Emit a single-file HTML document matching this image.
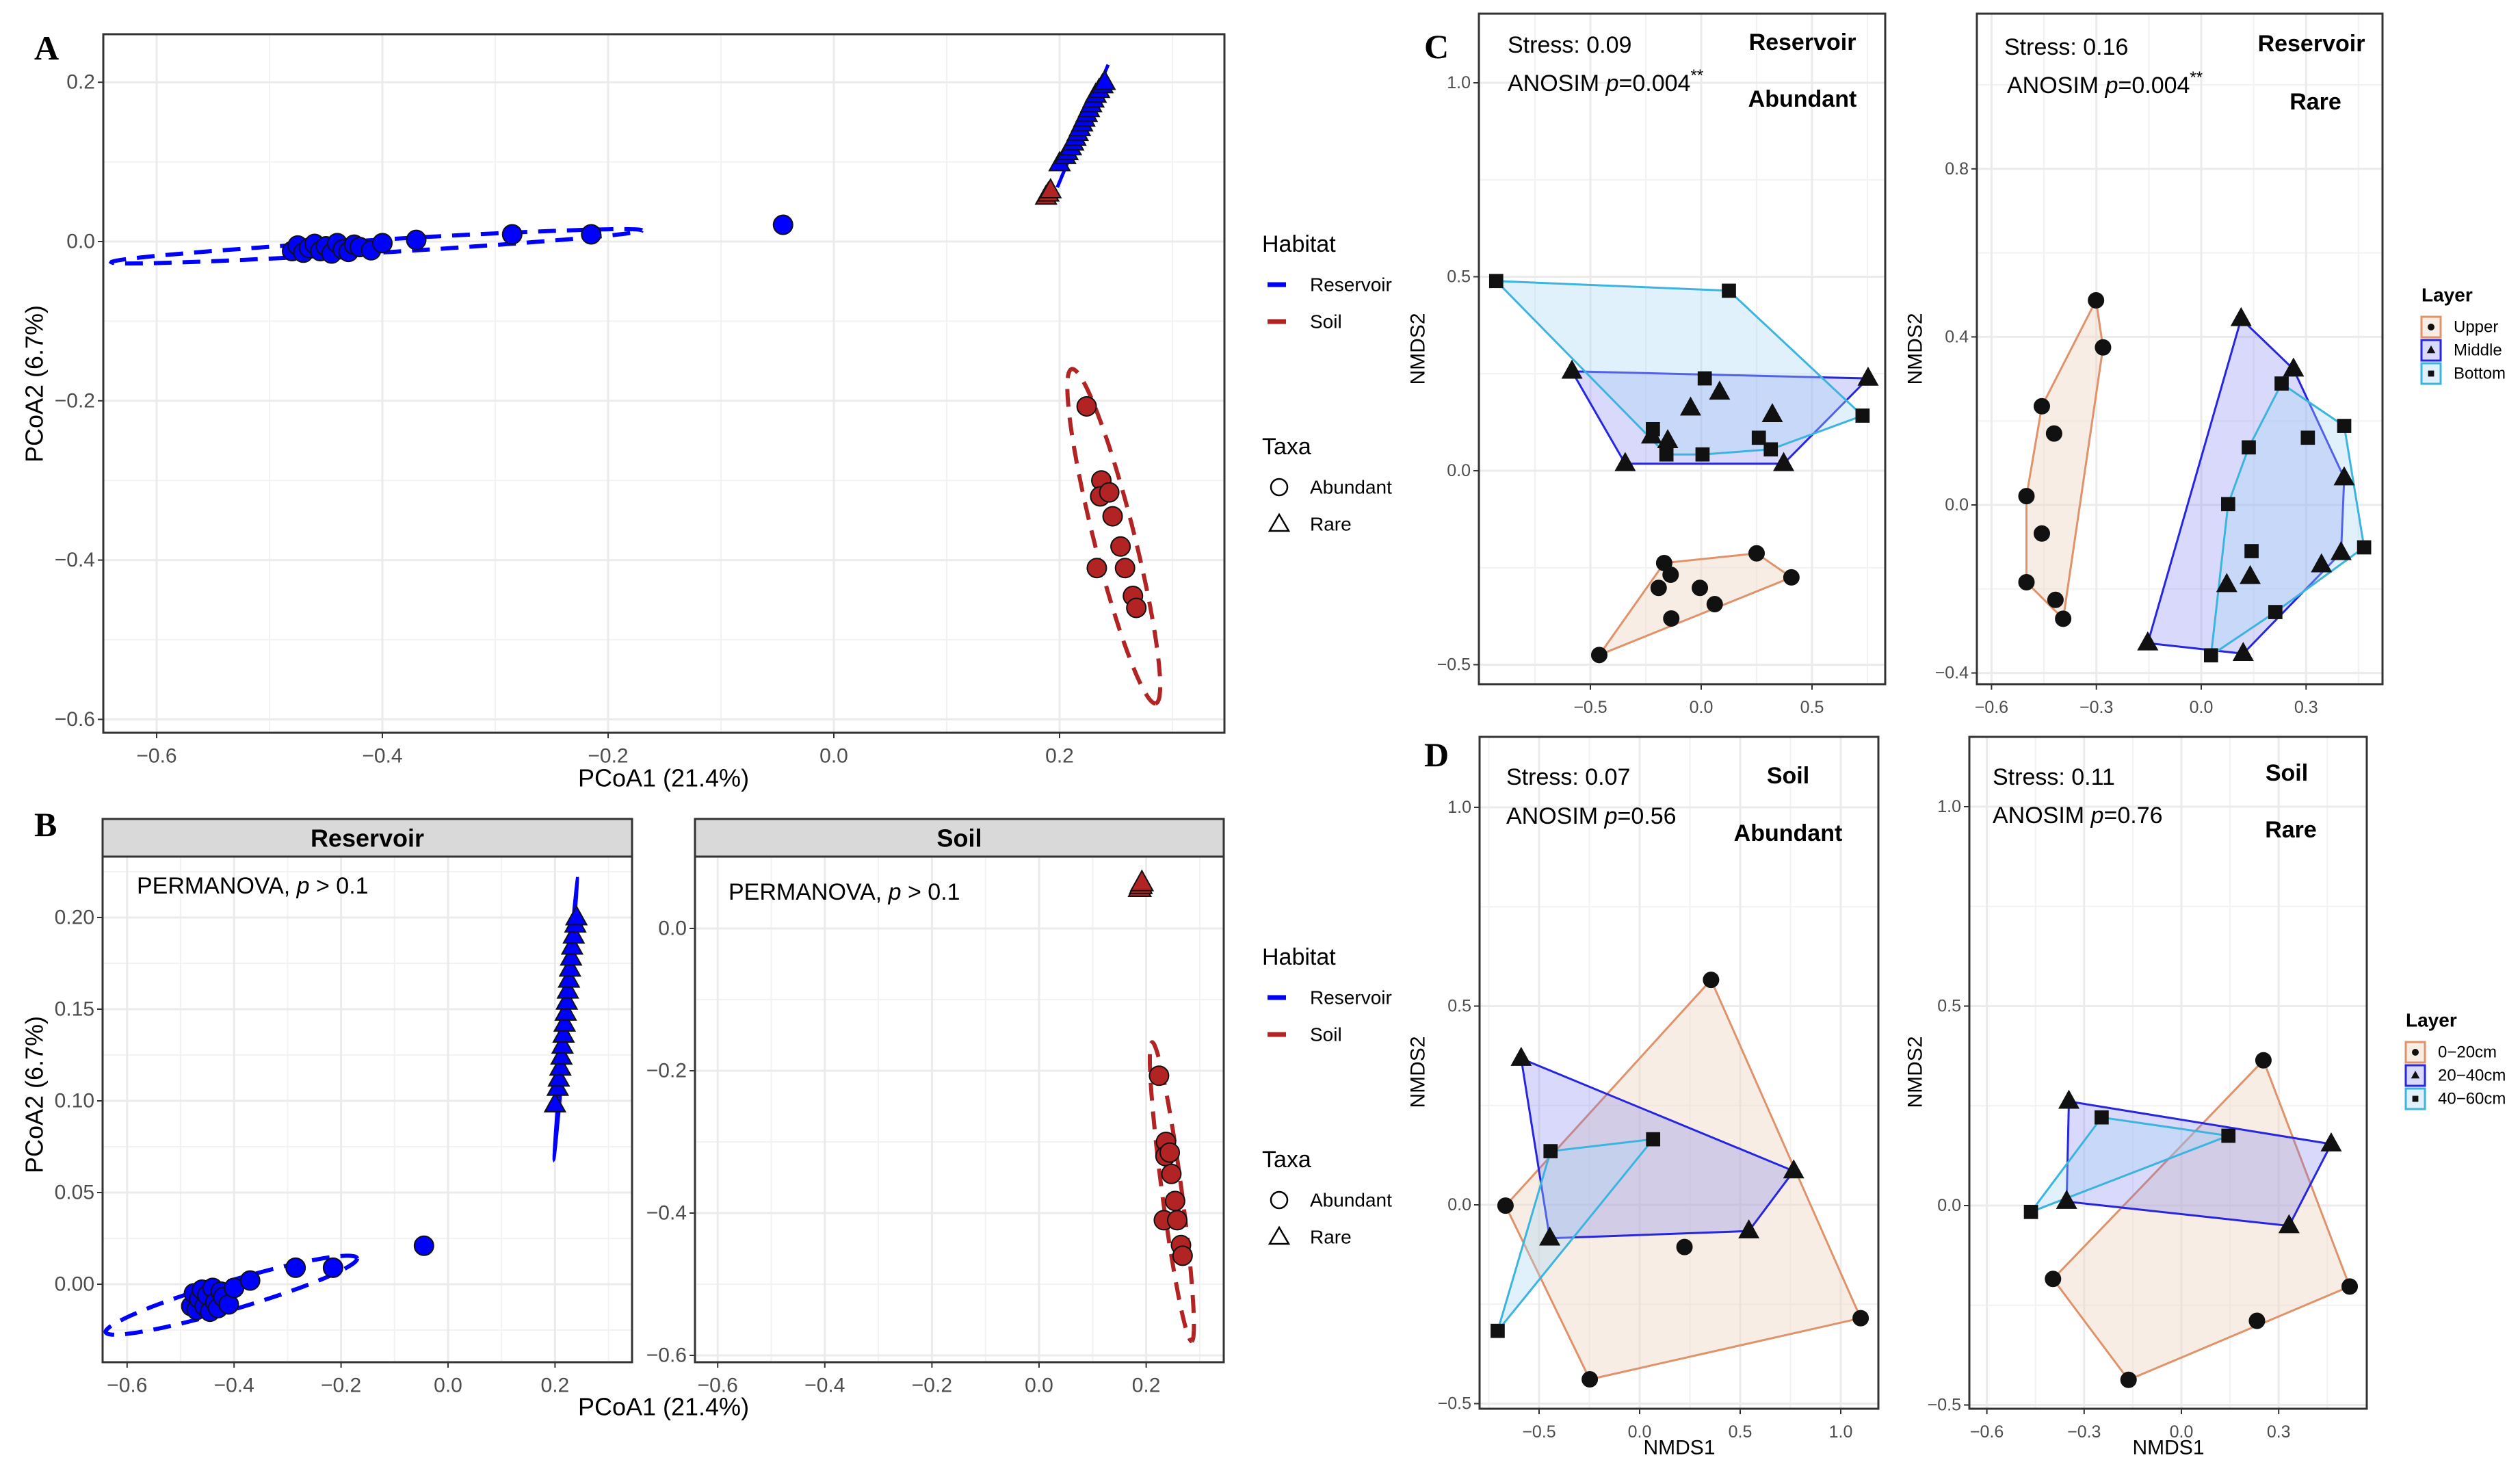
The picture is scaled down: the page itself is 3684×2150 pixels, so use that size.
<!DOCTYPE html>
<html><head><meta charset="utf-8"><style>
html,body{margin:0;padding:0;background:#fff}
svg{display:block;font-family:"Liberation Sans",Arial,sans-serif}
</style></head><body>
<svg id="fig" width="3684" height="2150" viewBox="0 0 3684 2150" xmlns="http://www.w3.org/2000/svg"></svg>
<script>
// ---------- DATA ----------
// PCoA (panels A, B)
const resAbX=[-0.48,-0.475,-0.47,-0.465,-0.46,-0.455,-0.45,-0.445,-0.44,-0.435,-0.43,-0.425,-0.42,-0.41,-0.40,-0.37,-0.285,-0.215,-0.045];
const resAbY=[-0.012,-0.005,-0.014,-0.008,-0.003,-0.012,-0.006,-0.015,-0.002,-0.01,-0.013,-0.004,-0.007,-0.011,-0.002,0.002,0.009,0.009,0.021];
const resRareX=[0.20,0.205,0.207,0.21,0.212,0.214,0.216,0.218,0.22,0.222,0.224,0.226,0.228,0.23,0.232,0.235,0.238,0.24];
const resRareY=[0.098,0.107,0.112,0.118,0.124,0.13,0.136,0.142,0.148,0.154,0.16,0.166,0.172,0.178,0.184,0.19,0.196,0.2];
const soilRareX=[0.188,0.19,0.192];
const soilRareY=[0.056,0.06,0.064];
const soilAbX=[0.224,0.237,0.236,0.244,0.247,0.254,0.233,0.258,0.265,0.268];
const soilAbY=[-0.207,-0.30,-0.32,-0.315,-0.345,-0.383,-0.41,-0.41,-0.445,-0.46];
// ellipses: center, axis a, axis b (data units)
const ellResAb=[-0.405,-0.006,0.235,0.02,-0.0015,0.008];
const ellResRare=[0.22,0.145,0.022,0.077,0.003,0];
const ellSoil=[0.248,-0.37,0.037,-0.21,0.018,0.003];

// NMDS C1
const c1UpX=[-0.46,-0.167,-0.138,-0.192,-0.006,0.061,-0.135,0.25,0.407];
const c1UpY=[-0.475,-0.238,-0.268,-0.302,-0.302,-0.344,-0.381,-0.213,-0.275];
const c1MidX=[-0.583,0.753,-0.343,0.372,0.083,-0.048,0.321,-0.224,-0.151];
const c1MidY=[0.256,0.238,0.018,0.018,0.202,0.161,0.144,0.089,0.077];
const c1BotX=[-0.925,0.125,0.728,0.016,-0.218,-0.157,0.006,0.26,0.314];
const c1BotY=[0.489,0.464,0.142,0.238,0.107,0.042,0.042,0.085,0.055];
// NMDS C2
const c2UpX=[-0.301,-0.281,-0.456,-0.421,-0.5,-0.456,-0.5,-0.417,-0.395];
const c2UpY=[0.487,0.375,0.235,0.17,0.021,-0.068,-0.184,-0.226,-0.271];
const c2MidX=[0.114,0.264,0.409,0.4,0.344,0.14,0.073,-0.153,0.12];
const c2MidY=[0.443,0.323,0.064,-0.114,-0.143,-0.171,-0.19,-0.329,-0.354];
const c2BotX=[0.23,0.409,0.305,0.136,0.077,0.144,0.466,0.212,0.028];
const c2BotY=[0.289,0.188,0.16,0.137,0.002,-0.11,-0.101,-0.255,-0.358];
// NMDS D1
const d1AX=[0.355,-0.667,-0.248,1.099,0.223];
const d1AY=[0.566,-0.002,-0.439,-0.285,-0.106];
const d1BX=[-0.589,0.766,0.543,-0.447];
const d1BY=[0.368,0.085,-0.066,-0.084];
const d1CX=[-0.443,0.067,-0.706];
const d1CY=[0.135,0.165,-0.317];
// NMDS D2
const d2AX=[0.253,-0.396,-0.163,0.519,0.233];
const d2AY=[0.364,-0.184,-0.437,-0.203,-0.289];
const d2BX=[-0.347,0.462,0.332,-0.354];
const d2BY=[0.261,0.154,-0.051,0.01];
const d2CX=[-0.246,0.145,-0.464];
const d2CY=[0.221,0.175,-0.016];

// ---------- HELPERS ----------
const NS='http://www.w3.org/2000/svg';
const svg=document.getElementById('fig');
function mk(tag,attrs,parent,text){
  const e=document.createElementNS(NS,tag);
  for(const k in attrs)e.setAttribute(k,attrs[k]);
  if(text!==undefined)e.textContent=text;
  (parent||svg).appendChild(e);return e;
}
function txt(x,y,s,size,opts,name){
  opts=opts||{};
  const t=mk('text',{x:x,y:y,'font-size':size,fill:opts.fill||'#000','text-anchor':opts.anchor||'start','dominant-baseline':'central','font-weight':opts.bold?'bold':'normal','font-family':opts.serif?'"Liberation Serif",serif':'"Liberation Sans",sans-serif'},opts.parent,s);
  if(opts.rot)t.setAttribute('transform','rotate(-90 '+x+' '+y+')');
  
  
  return t;
}
function fmt(v,d){return (v<0?'\u2212':'')+Math.abs(v).toFixed(d).replace('\u2212','');}
function hull(px){
  const p=px.slice().sort((a,b)=>a[0]-b[0]||a[1]-b[1]);
  const cr=(o,a,b)=>(a[0]-o[0])*(b[1]-o[1])-(a[1]-o[1])*(b[0]-o[0]);
  const lo=[],up=[];
  for(const q of p){while(lo.length>=2&&cr(lo[lo.length-2],lo[lo.length-1],q)<=0)lo.pop();lo.push(q);}
  for(let i=p.length-1;i>=0;i--){const q=p[i];while(up.length>=2&&cr(up[up.length-2],up[up.length-1],q)<=0)up.pop();up.push(q);}
  up.pop();lo.pop();return lo.concat(up);
}
// panel: box + scales
function panel(c){
  const g=mk('g',{});
  
  
  const sx=v=>c.x0+v*c.kx, sy=v=>c.y0-v*c.ky;
  mk('rect',{x:c.L,y:c.T,width:c.R-c.L,height:c.B-c.T,fill:'#fff'},g);
  // minor grid
  (c.xminor||[]).forEach(v=>{const l=mk('line',{x1:sx(v),x2:sx(v),y1:c.T,y2:c.B,stroke:'#f2f2f2','stroke-width':2},g);});
  (c.yminor||[]).forEach(v=>{const l=mk('line',{y1:sy(v),y2:sy(v),x1:c.L,x2:c.R,stroke:'#f2f2f2','stroke-width':2},g);});
  c.xt.forEach(v=>{const l=mk('line',{x1:sx(v),x2:sx(v),y1:c.T,y2:c.B,stroke:'#ebebeb','stroke-width':3},g);});
  c.yt.forEach(v=>{const l=mk('line',{y1:sy(v),y2:sy(v),x1:c.L,x2:c.R,stroke:'#ebebeb','stroke-width':3},g);});
  const clip='clip'+c.name;
  const cp=mk('clipPath',{id:clip},g);mk('rect',{x:c.L,y:c.T,width:c.R-c.L,height:c.B-c.T},cp);
  const plot=mk('g',{'clip-path':'url(#'+clip+')'},g);
  // ticks + labels
  c.xt.forEach(v=>{mk('line',{x1:sx(v),x2:sx(v),y1:c.B,y2:c.B+8,stroke:'#333','stroke-width':2},g);
    txt(sx(v),c.B+34,fmt(v,c.xd),c.fs,{anchor:'middle',fill:'#4d4d4d',parent:g},'x-tick-label');});
  c.yt.forEach(v=>{mk('line',{x1:c.L-8,x2:c.L,y1:sy(v),y2:sy(v),stroke:'#333','stroke-width':2},g);
    txt(c.L-12,sy(v),fmt(v,c.yd),c.fs,{anchor:'end',fill:'#4d4d4d',parent:g},'y-tick-label');});
  return {g,plot,sx,sy,c};
}
function border(P){const c=P.c;mk('rect',{x:c.L,y:c.T,width:c.R-c.L,height:c.B-c.T,fill:'none',stroke:'#333','stroke-width':3},P.g);}
function ellipse(P,e,col,name){
  let d='';
  for(let i=0;i<=120;i++){const t=i/120*2*Math.PI;
    const x=e[0]+Math.cos(t)*e[2]+Math.sin(t)*e[4], y=e[1]+Math.cos(t)*e[3]+Math.sin(t)*e[5];
    d+=(i?'L':'M')+P.sx(x).toFixed(1)+' '+P.sy(y).toFixed(1);}
  const p=mk('path',{d:d,fill:'none',stroke:col,'stroke-width':6,'stroke-dasharray':'26 16'},P.plot);
  
}
function marker(parent,shape,x,y,r,fill,name){
  let e;
  if(shape==='c')e=mk('circle',{cx:x,cy:y,r:r,fill:fill,stroke:'#111','stroke-width':2},parent);
  else if(shape==='t'){const h=r*1.15;e=mk('polygon',{points:`${x},${y-h*1.1} ${x-h},${y+h*0.7} ${x+h},${y+h*0.7}`,fill:fill,stroke:'#111','stroke-width':2},parent);}
  else e=mk('rect',{x:x-r*0.85,y:y-r*0.85,width:r*1.7,height:r*1.7,fill:fill,stroke:'#111','stroke-width':2},parent);
  
  return e;
}
function pts(P,X,Y,shape,r,fill,name){X.forEach((v,i)=>marker(P.plot,shape,P.sx(v),P.sy(Y[i]),r,fill,name));}
function hullDraw(P,X,Y,stroke,fillc,name){
  const h=hull(X.map((v,i)=>[P.sx(v),P.sy(Y[i])]));
  const p=mk('polygon',{points:h.map(q=>q[0].toFixed(1)+','+q[1].toFixed(1)).join(' '),fill:fillc,stroke:stroke,'stroke-width':3},P.plot);
  
}

const BLUE='#0000ff', RED='#b22424';

// ---------- PANEL A ----------
const A=panel({name:'panel-a',L:151,R:1790,T:50,B:1071,x0:1219,kx:1650,y0:353,ky:1164,
  xt:[-0.6,-0.4,-0.2,0,0.2],yt:[0.2,0,-0.2,-0.4,-0.6],xminor:[-0.5,-0.3,-0.1,0.1,0.3],yminor:[0.1,-0.1,-0.3,-0.5],xd:1,yd:1,fs:30});
ellipse(A,ellResAb,BLUE,'reservoir-ellipse');
ellipse(A,ellSoil,RED,'soil-ellipse');
{const p=mk('path',{d:`M${A.sx(0.198)} ${A.sy(0.068)} L${A.sx(0.243)} ${A.sy(0.222)}`,stroke:BLUE,'stroke-width':5,fill:'none'},A.plot);}
pts(A,resAbX,resAbY,'c',14,BLUE,'reservoir-abundant-point');
pts(A,resRareX,resRareY,'t',13,BLUE,'reservoir-rare-point');
pts(A,soilRareX,soilRareY,'t',13,RED,'soil-rare-point');
pts(A,soilAbX,soilAbY,'c',14,RED,'soil-abundant-point');
border(A);
txt(970,1137,'PCoA1 (21.4%)',36,{anchor:'middle'},'a-x-axis-title');
txt(50,561,'PCoA2 (6.7%)',36,{anchor:'middle',rot:true},'a-y-axis-title');
txt(50,70,'A',50,{bold:true,serif:true},'panel-letter-a');

// legends A & B
function habitatLegend(y0,pref){
  txt(1845,y0,'Habitat',34,{},pref+'habitat-legend-title');
  const l1=mk('line',{x1:1853,x2:1880,y1:y0+59,y2:y0+59,stroke:BLUE,'stroke-width':7});
  txt(1915,y0+59,'Reservoir',28,{},pref+'legend-reservoir-label');
  const l2=mk('line',{x1:1853,x2:1880,y1:y0+113,y2:y0+113,stroke:RED,'stroke-width':7});
  txt(1915,y0+113,'Soil',28,{},pref+'legend-soil-label');
  txt(1845,y0+296,'Taxa',34,{},pref+'taxa-legend-title');
  const c=mk('circle',{cx:1870,cy:y0+355,r:12,fill:'none',stroke:'#000','stroke-width':2.5});
  txt(1915,y0+355,'Abundant',28,{},pref+'legend-abundant-label');
  const t=mk('polygon',{points:`1870,${y0+395} 1856,${y0+419} 1884,${y0+419}`,fill:'none',stroke:'#000','stroke-width':2.5});
  txt(1915,y0+409,'Rare',28,{},pref+'legend-rare-label');
}
habitatLegend(357,'a-');
habitatLegend(1399,'b-');

// ---------- PANEL B ----------
function strip(L,R,label,name){
  const r=mk('rect',{x:L,y:1197,width:R-L,height:55,fill:'#d9d9d9',stroke:'#333','stroke-width':3});
  txt((L+R)/2,1225,label,36,{anchor:'middle',bold:true},name+'-label');
}
const B1=panel({name:'panel-b-reservoir',L:150,R:924,T:1252,B:1991,x0:655,kx:782,y0:1877,ky:2680,
  xt:[-0.6,-0.4,-0.2,0,0.2],yt:[0,0.05,0.1,0.15,0.2],xminor:[-0.5,-0.3,-0.1,0.1,0.3],yminor:[-0.025,0.025,0.075,0.125,0.175,0.225],xd:1,yd:2,fs:30});
ellipse(B1,ellResAb,BLUE,'reservoir-ellipse');
{const e=ellResRare;let d='';for(let i=0;i<=120;i++){const t=i/120*2*Math.PI;d+=(i?'L':'M')+B1.sx(e[0]+Math.cos(t)*e[2]+Math.sin(t)*e[4]).toFixed(1)+' '+B1.sy(e[1]+Math.cos(t)*e[3]+Math.sin(t)*e[5]).toFixed(1);}
 const p=mk('path',{d:d,fill:'none',stroke:BLUE,'stroke-width':4},B1.plot);}
pts(B1,resAbX,resAbY,'c',14,BLUE,'reservoir-abundant-point');
pts(B1,resRareX,resRareY,'t',13,BLUE,'reservoir-rare-point');
border(B1);
strip(150,924,'Reservoir','strip-reservoir');
txt(200,1295,'PERMANOVA, ',34,{},'b-permanova-reservoir').innerHTML='PERMANOVA, <tspan font-style="italic">p</tspan> &gt; 0.1';

const B2=panel({name:'panel-b-soil',L:1016,R:1789,T:1252,B:1991,x0:1519,kx:783,y0:1357,ky:1040,
  xt:[-0.6,-0.4,-0.2,0,0.2],yt:[0,-0.2,-0.4,-0.6],xminor:[-0.5,-0.3,-0.1,0.1,0.3],yminor:[0.1,-0.1,-0.3,-0.5],xd:1,yd:1,fs:30});
ellipse(B2,ellSoil,RED,'soil-ellipse');
pts(B2,soilRareX,soilRareY,'t',14,RED,'soil-rare-point');
pts(B2,soilAbX,soilAbY,'c',14,RED,'soil-abundant-point');
border(B2);
strip(1016,1789,'Soil','strip-soil');
txt(1065,1304,'',34,{},'b-permanova-soil').innerHTML='PERMANOVA, <tspan font-style="italic">p</tspan> &gt; 0.1';
txt(970,2056,'PCoA1 (21.4%)',36,{anchor:'middle'},'b-x-axis-title');
txt(50,1600,'PCoA2 (6.7%)',36,{anchor:'middle',rot:true},'b-y-axis-title');
txt(50,1205,'B',50,{bold:true,serif:true},'panel-letter-b');

// ---------- NMDS panels ----------
const UPS='#e0926a', UPF='rgba(238,214,196,0.45)';
const MIS='#2626e0', MIF='rgba(120,120,240,0.28)';
const BOS='#3cb4e0', BOF='rgba(170,215,245,0.35)';
function nmds(cfg,Ux,Uy,Mx,My,Bx,By,ann){
  const P=panel(cfg);
  hullDraw(P,Ux,Uy,UPS,UPF,'hull-group1');
  hullDraw(P,Mx,My,MIS,MIF,'hull-group2');
  hullDraw(P,Bx,By,BOS,BOF,'hull-group3');
  pts(P,Ux,Uy,'c',11,'#111','point-group1');
  pts(P,Mx,My,'t',12,'#111','point-group2');
  pts(P,Bx,By,'s',11,'#111','point-group3');
  border(P);
  txt(ann.sx,ann.sy,ann.stress,34,{},cfg.name+'-stress');
  txt(ann.ax,ann.ay,'',34,{},cfg.name+'-anosim').innerHTML='ANOSIM <tspan font-style="italic">p</tspan>='+ann.p+(ann.star?'<tspan font-size="24" dy="-12">**</tspan>':'');
  txt(ann.h1x,ann.h1y,ann.h1,34,{anchor:'middle',bold:true},cfg.name+'-habitat-label');
  txt(ann.h2x,ann.h2y,ann.h2,34,{anchor:'middle',bold:true},cfg.name+'-taxa-label');
  return P;
}
nmds({name:'panel-c-abundant',L:2162,R:2756,T:20,B:1000,x0:2487,kx:324,y0:688,ky:567,
  xt:[-0.5,0,0.5],yt:[-0.5,0,0.5,1.0],xminor:[-0.75,-0.25,0.25,0.75],yminor:[-0.25,0.25,0.75],xd:1,yd:1,fs:25},
  c1UpX,c1UpY,c1MidX,c1MidY,c1BotX,c1BotY,
  {sx:2204,sy:66,stress:'Stress: 0.09',ax:2204,ay:122,p:'0.004',star:true,h1x:2635,h1y:62,h1:'Reservoir',h2x:2635,h2y:145,h2:'Abundant'});
nmds({name:'panel-c-rare',L:2890,R:3483,T:20,B:1000,x0:3218,kx:511,y0:738,ky:614,
  xt:[-0.6,-0.3,0,0.3],yt:[-0.4,0,0.4,0.8],xminor:[-0.45,-0.15,0.15,0.45],yminor:[-0.2,0.2,0.6,1.0],xd:1,yd:1,fs:25},
  c2UpX,c2UpY,c2MidX,c2MidY,c2BotX,c2BotY,
  {sx:2930,sy:69,stress:'Stress: 0.16',ax:2934,ay:125,p:'0.004',star:true,h1x:3379,h1y:64,h1:'Reservoir',h2x:3385,h2y:149,h2:'Rare'});
nmds({name:'panel-d-abundant',L:2163,R:2746,T:1077,B:2059,x0:2397,kx:294,y0:1761,ky:581,
  xt:[-0.5,0,0.5,1.0],yt:[-0.5,0,0.5,1.0],xminor:[-0.75,-0.25,0.25,0.75],yminor:[-0.25,0.25,0.75],xd:1,yd:1,fs:25},
  d1AX,d1AY,d1BX,d1BY,d1CX,d1CY,
  {sx:2202,sy:1136,stress:'Stress: 0.07',ax:2202,ay:1193,p:'0.56',star:false,h1x:2614,h1y:1134,h1:'Soil',h2x:2614,h2y:1218,h2:'Abundant'});
nmds({name:'panel-d-rare',L:2879,R:3460,T:1077,B:2059,x0:3189,kx:474,y0:1762,ky:583,
  xt:[-0.6,-0.3,0,0.3],yt:[-0.5,0,0.5,1.0],xminor:[-0.45,-0.15,0.15,0.45],yminor:[-0.25,0.25,0.75],xd:1,yd:1,fs:25},
  d2AX,d2AY,d2BX,d2BY,d2CX,d2CY,
  {sx:2913,sy:1136,stress:'Stress: 0.11',ax:2913,ay:1192,p:'0.76',star:false,h1x:3343,h1y:1130,h1:'Soil',h2x:3349,h2y:1213,h2:'Rare'});

txt(2073,510,'NMDS2',30,{anchor:'middle',rot:true},'c-y-axis-title');
txt(2800,510,'NMDS2',30,{anchor:'middle',rot:true},'c2-y-axis-title');
txt(2073,1567,'NMDS2',30,{anchor:'middle',rot:true},'d-y-axis-title');
txt(2800,1567,'NMDS2',30,{anchor:'middle',rot:true},'d2-y-axis-title');
txt(2455,2116,'NMDS1',30,{anchor:'middle'},'d-x-axis-title');
txt(3170,2116,'NMDS1',30,{anchor:'middle'},'d2-x-axis-title');
txt(2082,68,'C',50,{bold:true,serif:true},'panel-letter-c');
txt(2082,1103,'D',50,{bold:true,serif:true},'panel-letter-d');

function layerLegend(x,y,labels,tx,pref){
  txt(x,y,'Layer',28,{bold:true},pref+'layer-legend-title');
  const cols=[[UPS,UPF,'c'],[MIS,MIF,'t'],[BOS,BOF,'s']];
  labels.forEach((lb,i)=>{
    const cy=y+47+i*34;
    const r=mk('rect',{x:x,y:cy-15,width:28,height:30,fill:cols[i][1],stroke:cols[i][0],'stroke-width':3});
    
    marker(svg,cols[i][2],x+14,cy,4,'#111',pref+'legend-key-glyph');
    txt(tx,cy,lb,24,{},pref+'legend-label');
  });
}
layerLegend(3540,431,['Upper','Middle','Bottom'],3587,'c-');
layerLegend(3517,1491,['0\u221220cm','20\u221240cm','40\u221260cm'],3564,'d-');
</script>
</body></html>
